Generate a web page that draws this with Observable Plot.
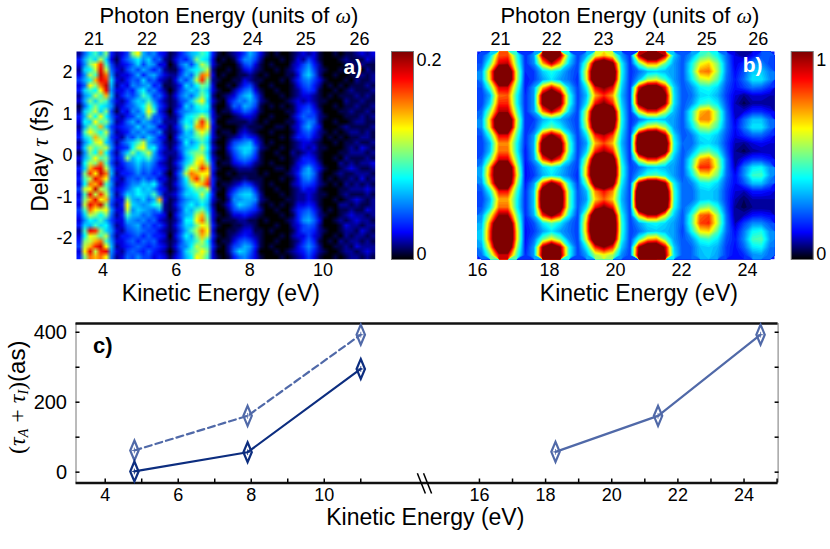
<!DOCTYPE html>
<html>
<head>
<meta charset="utf-8">
<script src="https://cdn.jsdelivr.net/npm/d3@7"></script>
<script src="https://cdn.jsdelivr.net/npm/@observablehq/plot@0.6"></script>
<style>
  body { margin: 0; background: #fff; }
  #chart { position: relative; width: 830px; height: 549px; overflow: hidden; }
</style>
</head>
<body>
<div id="chart"></div>
<script>
// panel a: counts, top row first, units of 0.01
const panelARows = [
  [2,6,9,11,8,12,4,2,3,5,12,14,8,6,7,4,3,1,2,4,6,8,9,11,10,4,1,0,1,2,3,5,8,6,3,1,0,1,0,0,1,2,3,2,3,1,0,0,1,0,1,1,2,3,2,3],
  [4,8,11,9,13,9,3,1,4,6,8,10,7,9,5,6,2,1,3,5,4,7,12,10,9,3,0,1,0,1,4,7,7,5,2,0,0,0,1,0,1,3,2,5,3,1,0,0,0,1,2,1,1,1,3,2],
  [3,7,12,14,17,11,5,2,3,4,6,9,5,8,7,3,3,0,2,6,8,5,9,13,11,3,1,0,0,0,2,5,6,3,1,0,1,0,0,0,2,3,5,7,4,2,0,0,0,0,1,2,1,2,1,1],
  [2,9,10,13,18,13,6,3,2,5,7,5,8,6,4,6,2,1,1,4,7,9,10,11,13,2,0,0,1,0,1,3,4,2,1,0,0,1,0,1,2,4,6,8,5,2,1,0,0,1,0,1,1,0,2,1],
  [3,7,13,11,19,16,7,2,3,3,5,8,4,7,8,5,3,2,2,5,8,6,11,16,15,3,0,1,0,0,1,1,2,1,0,1,0,0,0,1,1,3,7,9,6,2,0,0,1,0,0,1,1,2,1,2],
  [5,8,10,15,18,17,9,3,2,4,6,5,9,5,6,3,2,1,3,7,5,8,13,17,12,2,1,0,0,1,1,3,2,1,1,0,0,0,1,0,2,4,6,7,5,3,1,0,0,0,1,0,2,1,1,2],
  [3,6,14,12,16,19,8,2,4,3,7,6,7,8,4,5,1,1,2,4,9,7,10,12,11,3,0,0,1,0,2,4,5,2,0,0,1,0,0,0,1,3,5,6,4,2,0,1,0,1,0,1,1,1,2,1],
  [4,9,11,10,14,18,7,3,3,5,4,8,10,6,7,4,2,0,2,5,7,9,8,11,9,3,1,0,0,2,4,6,7,3,1,0,0,1,0,0,1,2,4,5,4,1,0,0,1,0,1,2,1,1,1,2],
  [2,7,9,13,11,15,8,2,4,6,5,7,11,9,5,6,3,1,3,6,8,6,9,12,10,2,0,1,2,3,6,8,9,5,2,0,0,0,1,0,1,2,3,3,2,1,0,1,0,1,1,1,2,1,2,1],
  [3,8,12,9,12,11,6,3,2,4,7,9,8,11,7,4,2,1,2,5,6,9,12,14,9,3,1,0,3,5,7,6,8,6,2,1,0,0,0,1,2,3,2,3,2,1,1,0,0,0,2,1,1,2,1,1],
  [1,6,10,12,10,9,7,2,3,5,6,8,10,13,9,5,3,1,2,4,9,7,10,11,10,2,0,0,2,6,5,8,7,5,1,0,1,0,1,0,1,3,4,5,3,1,0,0,1,0,1,1,2,1,1,2],
  [2,9,11,13,9,12,5,1,4,3,7,6,9,14,11,4,2,0,3,6,7,8,9,10,9,3,0,1,1,3,4,6,5,3,1,0,0,0,0,1,1,3,5,6,4,2,0,0,0,1,1,2,1,1,2,1],
  [4,8,13,10,14,10,6,3,2,4,5,8,7,12,6,5,3,1,2,5,9,10,11,13,11,3,1,0,0,1,2,3,3,2,0,0,1,0,0,0,2,4,6,5,5,2,1,0,0,0,1,1,1,2,1,2],
  [3,10,9,14,11,12,7,2,3,6,8,5,8,7,5,6,2,2,2,7,10,9,13,17,13,4,0,0,1,1,1,1,2,1,0,1,0,0,0,1,1,3,5,7,6,2,0,0,1,0,0,1,2,2,1,1],
  [2,8,12,11,15,9,5,3,4,5,6,9,6,8,7,3,3,1,3,6,11,10,15,16,14,3,1,0,0,0,1,2,1,1,1,0,0,1,1,0,2,3,6,8,5,3,0,0,0,1,2,1,1,1,1,2],
  [3,11,14,12,10,13,6,2,3,4,7,6,8,6,5,7,2,1,2,5,9,8,12,14,12,3,0,1,1,0,2,3,2,1,0,0,1,0,0,0,1,3,5,6,4,2,1,0,1,0,1,2,2,1,2,1],
  [4,9,11,15,12,11,5,3,2,6,5,8,6,9,7,4,3,0,3,7,8,9,11,12,10,3,1,0,1,2,3,5,4,3,1,0,0,0,1,0,2,4,4,5,3,2,0,1,0,1,0,1,1,2,2,1],
  [2,7,10,13,14,9,6,2,5,7,9,11,13,8,6,5,2,1,2,5,10,7,9,11,9,2,0,0,2,5,6,7,8,4,2,0,1,0,0,0,1,2,3,3,2,1,0,0,1,0,1,1,2,1,1,2],
  [3,9,13,11,12,13,7,3,4,5,10,13,14,9,10,5,3,1,3,6,8,9,10,13,10,3,1,0,3,6,8,9,9,6,2,1,0,0,1,0,1,2,3,2,3,1,1,0,0,0,1,2,1,3,2,1],
  [1,7,12,10,15,10,5,2,6,9,12,9,11,13,8,4,2,2,2,5,9,11,12,12,9,2,0,0,2,5,7,9,8,5,1,0,0,1,0,0,2,1,2,3,2,1,0,0,0,1,1,2,2,2,1,2],
  [3,8,11,14,11,12,6,3,5,12,8,10,9,11,7,5,3,1,2,4,8,10,13,14,10,3,1,0,1,4,6,7,6,4,1,0,0,0,1,0,1,2,4,4,3,1,0,0,1,0,2,1,1,1,2,1],
  [2,10,13,12,16,11,5,2,4,6,7,9,7,8,6,3,2,1,3,6,9,11,14,15,12,4,0,1,1,3,4,5,4,2,1,0,1,0,0,0,1,3,4,5,4,2,0,0,0,2,1,2,1,2,2,3],
  [4,9,15,17,18,13,7,3,3,5,6,8,6,7,5,4,3,1,2,5,11,14,13,17,15,4,1,0,0,1,2,2,2,1,0,0,0,1,1,0,2,3,6,8,5,3,1,0,0,1,2,3,2,1,1,2],
  [3,12,17,14,19,16,8,2,4,4,5,7,5,6,4,5,2,0,3,7,13,16,15,14,14,3,0,0,1,0,1,1,1,1,0,1,0,0,0,1,2,4,7,8,6,2,0,0,1,2,1,1,2,2,2,1],
  [4,11,13,18,16,14,6,3,2,5,6,5,7,5,6,3,3,1,2,6,10,15,17,13,16,4,1,0,0,1,1,2,1,1,1,0,0,0,1,0,1,3,6,7,5,2,0,1,0,1,1,2,1,3,1,2],
  [3,10,16,15,18,11,7,2,3,5,7,7,9,8,10,5,2,1,3,6,9,12,14,15,17,4,0,1,1,2,3,5,4,2,1,0,1,0,0,0,2,3,5,5,4,2,1,0,1,0,2,1,2,1,2,1],
  [5,13,14,19,13,12,6,3,4,6,8,10,8,9,7,4,3,1,2,5,8,10,12,11,13,3,1,0,2,4,6,7,7,4,1,0,0,1,0,0,1,2,4,3,3,1,0,0,0,1,1,2,2,2,3,2],
  [3,11,18,13,17,13,7,2,5,9,8,10,9,8,11,6,2,2,3,6,9,9,10,13,10,4,0,0,3,6,8,9,9,6,2,0,0,0,1,0,1,2,2,3,2,1,1,0,0,1,2,1,1,1,2,1],
  [4,12,15,18,14,15,6,3,3,12,8,7,9,6,8,15,3,1,2,5,7,8,9,11,9,3,1,0,2,7,7,8,8,7,2,1,0,0,0,1,1,2,2,3,2,1,0,0,1,0,1,2,3,2,1,2],
  [3,13,18,16,19,12,5,2,4,14,9,8,7,8,10,11,2,1,3,6,8,10,8,10,8,2,0,1,3,6,9,8,7,5,1,0,1,0,1,0,1,3,3,4,3,1,0,0,0,2,2,1,2,1,1,2],
  [5,11,16,14,13,14,7,3,3,13,7,9,8,7,6,8,2,1,2,5,9,8,11,12,9,3,0,0,2,5,6,6,5,4,2,0,0,1,0,0,2,4,5,6,4,2,0,1,0,1,1,2,1,1,3,2],
  [4,9,13,12,10,12,6,2,4,11,8,8,6,7,5,4,3,0,3,6,8,9,13,15,11,3,1,0,1,3,3,4,3,2,1,0,0,0,1,0,1,4,6,7,5,2,1,0,0,1,2,3,2,2,1,2],
  [3,7,10,9,11,8,5,3,3,8,7,6,7,5,6,3,2,1,2,5,10,10,14,16,12,3,0,1,1,1,2,2,1,1,0,1,0,0,0,1,2,4,7,8,6,3,0,0,1,2,1,2,3,2,2,1],
  [4,9,8,11,9,10,6,2,3,6,7,8,5,6,4,5,3,1,3,6,9,9,12,14,13,4,1,0,0,1,1,2,2,1,0,0,0,1,0,0,2,3,5,6,5,2,0,0,0,1,3,2,2,1,2,2],
  [2,11,18,17,12,9,7,3,2,5,6,7,6,5,5,3,2,1,2,5,8,11,13,16,14,3,0,0,1,1,2,3,3,1,1,0,1,0,0,0,1,3,5,5,4,2,1,0,0,1,2,2,1,3,2,1],
  [3,10,14,13,11,13,6,2,4,4,5,6,4,6,4,4,3,0,3,6,10,8,12,15,13,4,1,0,1,2,3,4,3,2,1,0,0,0,1,0,2,3,3,5,3,2,0,0,1,0,2,1,2,2,1,2],
  [4,12,13,15,16,11,7,3,3,5,6,4,6,5,6,3,2,1,2,5,8,9,11,13,10,3,0,1,1,3,5,6,5,3,1,0,0,1,0,0,1,2,4,6,4,1,0,1,0,2,1,2,2,1,2,1],
  [5,13,15,17,19,14,8,2,3,4,5,6,5,4,5,4,3,1,3,6,7,10,13,12,11,4,1,0,2,5,6,8,7,4,1,0,1,0,0,0,1,3,5,7,5,2,0,0,1,1,2,1,3,2,2,2],
  [3,14,18,13,17,18,7,3,2,5,6,5,4,6,4,3,2,0,2,5,9,11,12,14,12,3,0,0,2,6,9,8,6,3,0,0,0,1,0,1,2,3,4,6,4,2,1,0,0,1,2,2,1,2,3,2],
  [4,12,16,15,16,14,6,2,3,6,5,7,5,5,3,4,3,1,3,5,8,10,14,13,11,3,1,0,1,4,6,7,5,3,1,0,0,0,1,0,1,2,3,5,3,1,0,0,1,0,1,2,2,1,2,1]
];
const panelAStops = [0, 3.4, 10, 14, 17.5, 21];

// panel b: one list per harmonic band, top row first, percent of full scale (above 100 saturates)
const band21 = [
  [20,35,80,82,45,18],[22,48,92,95,50,18],[28,72,130,130,60,18],[28,70,130,130,60,16],[22,48,92,92,50,16],
  [20,32,78,80,42,18],[20,38,85,85,42,18],[25,55,96,96,50,18],[28,72,130,130,62,18],[28,68,130,130,58,18],
  [22,45,90,90,48,18],[20,33,75,75,42,18],[20,35,78,78,42,16],[24,50,92,92,50,16],[30,75,130,130,62,15],
  [32,80,130,130,68,15],[28,70,125,125,58,16],[22,42,88,88,46,18],[20,33,72,72,42,18],[22,38,78,78,42,18],
  [28,60,100,100,52,18],[32,78,135,135,62,16],[35,85,140,140,68,15],[35,85,140,140,68,15],[30,70,130,130,58,16],
  [25,50,92,92,48,18]
];
const band22 = [
  [30,100,130,100,42,20],[28,70,95,70,35,20],[20,35,42,35,25,20],[20,30,38,30,25,18],[30,70,90,70,35,20],
  [30,105,130,105,45,20],[30,105,130,105,45,20],[30,75,95,75,35,20],[20,32,38,32,25,20],[22,40,50,40,28,20],
  [30,85,105,85,40,20],[32,110,130,110,48,20],[32,110,130,110,48,20],[30,80,100,80,38,20],[22,35,42,35,26,20],
  [20,32,38,32,25,18],[30,80,105,85,40,20],[35,115,135,115,50,22],[35,120,140,120,50,22],[35,115,135,115,50,22],
  [32,85,105,85,40,20],[22,38,48,38,26,20],[20,30,38,30,25,20],[25,50,65,50,28,20],[30,100,125,100,42,20],
  [30,105,130,105,42,20]
];
const band23 = [
  [32,60,70,60,30,18],[50,110,125,105,40,18],[62,130,140,125,42,18],[60,130,140,120,40,18],[40,90,102,90,36,18],
  [33,72,85,72,33,18],[38,88,102,85,36,18],[58,125,135,120,40,18],[62,130,140,125,42,18],[55,120,135,110,40,18],
  [38,85,95,82,36,18],[30,70,82,70,33,18],[36,85,98,85,36,18],[55,120,130,115,40,18],[68,135,145,130,45,20],
  [70,135,145,130,45,20],[50,115,130,110,40,20],[33,75,88,75,35,20],[30,68,80,68,33,20],[38,88,102,88,36,20],
  [62,130,140,120,42,20],[72,140,150,130,45,20],[72,140,150,130,45,20],[62,125,140,120,42,20],[40,85,100,85,35,20],
  [30,55,62,55,28,20]
];
const band24 = [
  [95,125,125,95,35,22],[50,75,75,50,30,22],[25,33,35,33,30,22],[32,55,60,45,30,22],[90,115,115,88,36,22],
  [110,135,135,105,38,22],[105,130,130,100,38,22],[62,85,85,60,33,22],[25,33,35,33,30,22],[45,65,70,55,30,22],
  [110,130,130,100,38,22],[125,140,140,120,42,24],[115,135,135,110,40,22],[62,85,85,60,33,22],[25,33,35,33,30,22],
  [32,45,48,40,30,22],[100,125,125,100,40,24],[130,140,140,125,45,24],[135,145,145,130,45,24],[125,140,140,120,42,24],
  [70,95,95,65,35,22],[30,38,40,36,30,22],[25,33,35,33,30,20],[45,70,75,50,30,22],[100,125,125,95,35,22],
  [105,130,130,100,38,22]
];
const band25 = [
  [30,45,50,40,25,12],[40,62,68,52,27,12],[42,75,78,55,27,14],[38,58,62,48,25,16],[28,40,42,36,22,15],
  [25,36,38,32,20,12],[28,42,46,38,22,10],[42,70,75,52,25,10],[42,75,76,52,26,12],[36,55,58,45,25,14],
  [26,38,40,34,22,13],[24,35,37,32,20,10],[30,45,50,40,22,8],[42,72,78,55,26,8],[45,85,85,58,26,10],
  [38,62,65,50,25,14],[27,40,42,36,22,14],[24,34,36,32,20,12],[24,34,36,32,20,10],[32,50,55,42,22,8],
  [44,78,82,55,25,8],[46,82,85,58,26,10],[40,65,68,48,25,14],[28,42,45,38,22,16],[24,34,36,32,20,15],
  [24,33,35,30,20,14]
];
const band26 = [
  [8,14,22,22],[18,30,28,20],[22,35,35,26],[25,38,38,28],[20,26,24,18],
  [8,12,12,10],[5,9,9,8],[12,18,18,14],[24,34,34,24],[26,38,38,26],
  [18,24,24,18],[8,12,14,12],[5,9,10,10],[14,20,20,16],[26,38,40,28],
  [28,45,46,30],[22,34,34,24],[10,16,16,14],[6,10,10,10],[5,8,8,8],
  [10,15,16,14],[20,28,28,22],[26,40,42,28],[28,46,48,30],[24,38,40,26],
  [18,28,30,24]
];

// photon energy ticks (harmonic order and where it sits on the kinetic energy axis)
const harmonics = ["21", "22", "23", "24", "25", "26"];
const harmonicKeA = [3.76, 5.2, 6.65, 8.08, 9.53, 10.99];
const harmonicKeB = [16.52, 18.07, 19.64, 21.2, 22.77, 24.33];
const delayTicks = [-2, -1, 0, 1, 2];
const keTicksA = [4, 6, 8, 10];
const keTicksB = [18, 20, 22, 24];

// panel c, the axis is broken so each side gets its own plot
const keLow = [4.8, 7.9, 11];
const keHigh = [18.3, 21.4, 24.5];
const delaySolid = [2, 57, 295];
const delayDashed = [62, 161, 393];
const delayHigh = [58, 161, 393];
const delayTicksC = [0, 100, 200, 300, 400];
const delayLabelsC = [0, 200, 400];
const keLabelsLow = [4, 6, 8, 10];
const keLabelsHigh = [16, 18, 20, 22, 24];
const keMinorLow = [4, 5, 6, 7, 8, 9, 10, 11];
const keMinorHigh = [16, 17, 18, 19, 20, 21, 22, 23, 24, 25];
const barSteps = d3.range(256, -1, -1);

const fontStyle = {fontFamily: "'Liberation Sans', Arial, sans-serif", fontSize: "18px", background: "transparent", overflow: "visible"};
const chart = document.getElementById("chart");
const jetColors = ["#000000", "#0000ff", "#00ffff", "#ffff00", "#ff0000", "#7f0000"];

function jet(max) {
  return {
    type: "linear",
    clamp: true,
    domain: [0, .13, .39, .63, .87, 1].map(d => d * max),
    range: jetColors
  };
}

function place(svg, left, top) {
  svg.style.position = "absolute";
  svg.style.left = left + "px";
  svg.style.top = top + "px";
  chart.append(svg);
  return svg;
}

function photonTitle(harmonicKe, titleDx, keDx) {
  return [
    Plot.text(["Photon Energy (units of ω)"], {frameAnchor: "top", lineAnchor: "middle", dy: -36, dx: titleDx, fontSize: 22}),
    Plot.text(harmonicKe, {x: d => d, frameAnchor: "top", lineAnchor: "middle", dy: -12, text: (d, i) => harmonics[i]}),
    Plot.text(["Kinetic Energy (eV)"], {frameAnchor: "bottom", lineAnchor: "middle", dy: 34, dx: keDx, fontSize: 23})
  ];
}

// a)
place(Plot.plot({
  width: 380, height: 305,
  marginLeft: 76, marginRight: 5.3, marginTop: 51, marginBottom: 46.3,
  style: fontStyle,
  x: {domain: [3.28, 11.42], label: null},
  y: {domain: [-2.5, 2.5], label: null},
  color: {type: "linear", clamp: true, domain: panelAStops, range: jetColors},
  marks: [
    Plot.raster(panelARows.flat(), {width: 56, height: 40, x1: 3.28, x2: 11.42, y1: 2.5, y2: -2.5}),
    Plot.axisX({ticks: keTicksA, tickSize: 0, tickPadding: 4, label: null}),
    Plot.axisY({ticks: delayTicks, tickSize: 0, tickPadding: 4, label: null, tickFormat: d => String(d)}),
    Plot.text(["Delay τ (fs)"], {frameAnchor: "left", textAnchor: "middle", lineAnchor: "middle", dx: -36, rotate: -90, fontSize: 23}),
    ...photonTitle(harmonicKeA, 3, -5),
    Plot.text(["a)"], {frameAnchor: "top-right", lineAnchor: "middle", dx: -13, dy: 16, fill: "white", fontWeight: "bold", fontSize: 21})
  ]
}), 0, 0);

// b)
const panelBRows = band21.map((d, i) => [...d, ...band22[i], ...band23[i], ...band24[i], ...band25[i], ...band26[i]]);
place(Plot.plot({
  width: 340, height: 305,
  marginLeft: 36.7, marginRight: 6, marginTop: 51, marginBottom: 46.3,
  style: fontStyle,
  x: {domain: [15.81, 24.82], label: null},
  y: {domain: [-2.5, 2.5], label: null, axis: null},
  color: jet(100),
  marks: [
    Plot.frame({fill: "#0018ff", stroke: "none"}),
    Plot.contour(panelBRows.flat(), {width: 34, height: 26, x1: 15.81, x2: 24.82, y1: 2.5, y2: -2.5, fill: Plot.identity, thresholds: d3.range(4, 106, 2)}),
    Plot.axisX({ticks: keTicksB, tickSize: 0, tickPadding: 4, label: null}),
    Plot.axisX({ticks: [16], tickSize: 0, tickPadding: 4, label: null, dx: -6}),
    ...photonTitle(harmonicKeB, 4, 13),
    Plot.text(["b)"], {frameAnchor: "top-right", lineAnchor: "middle", dx: -12, dy: 14, fill: "white", fontWeight: "bold", fontSize: 21})
  ]
}), 440, 0);

// colour bars
function colorBar(left, width, marginLeft, max, labels) {
  return place(Plot.plot({
    width, height: 305,
    marginLeft, marginRight: width - marginLeft - 22, marginTop: 51, marginBottom: 46,
    style: fontStyle,
    x: {domain: [0, 1], axis: null},
    y: {domain: [0, max], axis: null},
    color: jet(max),
    marks: [
      Plot.raster(barSteps.map(d => d / 256 * max), {width: 1, height: 257, x1: 0, x2: 1, y1: max, y2: 0}),
      Plot.frame({stroke: "#777"}),
      Plot.text(labels, {x: 1, y: (d, i) => [.024, .96][i] * max, textAnchor: "start", dx: 3})
    ]
  }), left, 0);
}
colorBar(380, 70, 11, 20, ["0", "0.2"]);
colorBar(780, 50, 10.7, 100, ["0", "1"]);

// c)
const lowSolid = keLow.map((x, i) => ({x, y: delaySolid[i]}));
const lowDashed = keLow.map((x, i) => ({x, y: delayDashed[i]}));
const highSolid = keHigh.map((x, i) => ({x, y: delayHigh[i]}));
const darkBlue = "#0c2d7f";
const lightBlue = "#5069a8";
const thinDiamond = {
  draw(context, size) {
    const h = Math.sqrt(size / Math.PI);
    const w = h * .42;
    context.moveTo(0, -h);
    context.lineTo(w, 0);
    context.lineTo(0, h);
    context.lineTo(-w, 0);
    context.closePath();
  }
};
function series(rows, color, dash) {
  return [
    Plot.line(rows, {x: "x", y: "y", stroke: color, strokeWidth: 2.2, strokeDasharray: dash}),
    Plot.dot(rows, {x: "x", y: "y", symbol: thinDiamond, r: 10, stroke: color, strokeWidth: 2.2, fill: "none"}),
    Plot.dot(rows, {x: "x", y: "y", symbol: "plus", r: 2, stroke: color, strokeWidth: .8})
  ];
}
const yC = {domain: [-31, 425], label: null};
const bordersC = [
  Plot.ruleY([-31, 425], {strokeWidth: 2.5, stroke: "#111"})
];
place(Plot.plot({
  width: 430, height: 244,
  marginLeft: 75.5, marginRight: 0, marginTop: 18, marginBottom: 66.5,
  style: fontStyle,
  x: {domain: [3.2, 12.91], label: null},
  y: yC,
  marks: [
    Plot.ruleX([3.2], {stroke: "#777"}),
    bordersC,
    Plot.axisY({ticks: delayTicksC, tickSize: -4, fill: "none", label: null, strokeWidth: 1.5}),
    Plot.axisX({ticks: keMinorLow, tickSize: -4, fill: "none", label: null, strokeWidth: 1.5}),
    Plot.axisX({ticks: keLabelsLow, tickSize: 0, tickPadding: 5, label: null}),
    Plot.axisY({ticks: delayLabelsC, tickSize: 0, tickPadding: 9, label: null, fontSize: 20}),
    Plot.link([12.55, 12.72], {x1: d => d, x2: d => d + .22, y1: -3, y2: -61, stroke: "black", strokeWidth: 1.5}),
    ...series(lowDashed, lightBlue, "7,4"),
    ...series(lowSolid, darkBlue),
    Plot.text(["c)"], {frameAnchor: "top-left", lineAnchor: "middle", dx: 17, dy: 22, fontWeight: "bold", fontSize: 22}),
    Plot.text(["Kinetic Energy (eV)"], {frameAnchor: "bottom", lineAnchor: "middle", dy: 35, dx: 172, fontSize: 23}),
    Plot.text(["(τA + τI)(as)"], {frameAnchor: "left", textAnchor: "middle", lineAnchor: "middle", dx: -59, dy: -6, rotate: -90, fontSize: 24})
  ]
}), 0, 305);
place(Plot.plot({
  width: 400, height: 244,
  marginLeft: 0, marginRight: 52.4, marginTop: 18, marginBottom: 66.5,
  style: fontStyle,
  x: {domain: [14.52, 25.03], label: null},
  y: yC,
  marks: [
    Plot.ruleX([25.03], {stroke: "#777"}),
    bordersC,
    Plot.axisY({ticks: delayTicksC, anchor: "right", tickSize: -4, fill: "none", label: null, strokeWidth: 1.5}),
    Plot.axisX({ticks: keMinorHigh, tickSize: -4, fill: "none", label: null, strokeWidth: 1.5}),
    Plot.axisX({ticks: keLabelsHigh, tickSize: 0, tickPadding: 5, label: null}),
    ...series(highSolid, lightBlue)
  ]
}), 430, 305);

// symbols and subscripts the text marks cannot style on their own
d3.select(chart).selectAll("text").each(function() {
  const t = this.textContent;
  const serif = "font-family=\"'Liberation Serif',serif\" font-style=\"italic\"";
  const upright = "font-family=\"'Liberation Serif',serif\"";
  if (t.includes("ω")) {
    this.innerHTML = `Photon Energy (units of <tspan ${serif}>ω</tspan>)`;
  } else if (t === "Delay τ (fs)") {
    this.innerHTML = `Delay <tspan ${serif}>τ</tspan> (fs)`;
  } else if (t === "(τA + τI)(as)") {
    this.innerHTML = `<tspan ${upright}>(</tspan><tspan ${serif}>τ</tspan><tspan ${serif} font-size="14" dy="3">A</tspan><tspan ${upright} dy="-3"> + </tspan><tspan ${serif}>τ</tspan><tspan ${serif} font-size="14" dy="3">I</tspan><tspan ${upright} dy="-3">)</tspan>(as)`;
  }
});
</script>
</body>
</html>
